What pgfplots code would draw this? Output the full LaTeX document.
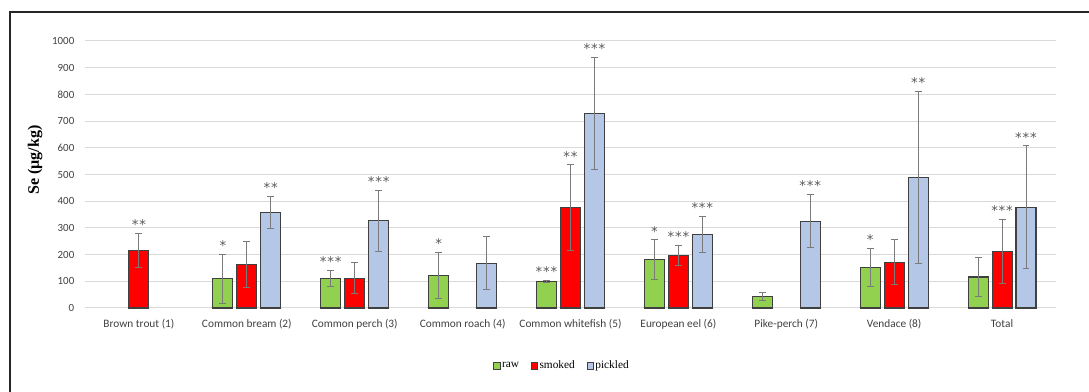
\documentclass[border=0pt]{standalone}
\usepackage{pgfplots}
\pgfplotsset{compat=1.18}
\usepackage{pgfplotstable}
\usepackage{fontspec}
\setmainfont{Carlito}
\newfontfamily\timesf{Liberation Serif}
\newfontfamily\starfont[LetterSpace=6]{DejaVu Sans}

\definecolor{rawc}{HTML}{92D050}
\definecolor{smkc}{HTML}{FF0000}
\definecolor{pikc}{HTML}{B4C7E7}
\definecolor{edge}{HTML}{404040}
\definecolor{gridc}{HTML}{D9D9D9}
\definecolor{errc}{HTML}{7A7A7A}
\definecolor{starc}{HTML}{595959}
\definecolor{textc}{HTML}{404040}

\pgfplotstableread{
x y err lab
1 110 92 *
2 112 30 ***
3 123 86 *
4 100 3 ***
5 181 75 *
6 44 15 {}
7 151 72 *
8 116 74 {}
}\rawt
\pgfplotstableread{
x y err lab
0 215 65 **
1 162 87 {}
2 112 58 {}
4 377 160 **
5 198 37 ***
7 171 84 {}
8 212 121 ***
}\smkt
\pgfplotstableread{
x y err lab
1 359 60 **
2 327 114 ***
3 168 100 {}
4 728 210 ***
5 276 67 ***
6 325 100 ***
7 489 322 **
8 377 230 ***
}\pikt

\pgfplotsset{
  mybar/.style={ybar, bar width=0.185, bar shift=0pt, draw=edge, line width=0.8pt,
    error bars/y dir=both, error bars/y explicit,
    error bars/error mark=-,
    error bars/error bar style={errc, line width=0.75pt},
    error bars/error mark options={rotate=90, errc, line width=0.75pt, mark size=2.6pt}},
  starplot/.style={draw=none, mark=none, forget plot, nodes near coords,
    point meta=explicit symbolic,
    nodes near coords style={anchor=south, inner sep=0pt, yshift=2.5pt,
      font=\starfont\fontsize{10}{11}\selectfont, text=starc}}
}

\begin{document}
\begin{tikzpicture}[x=1pt,y=1pt]
\useasboundingbox (0,0) rectangle (816.75,294);
\draw[line width=1.1pt, black!85] (7.5,-2) -- (7.5,285) -- (820,285);
\begin{axis}[at={(63.75pt,63pt)}, anchor=south west, scale only axis,
  width=728.25pt, height=200.25pt,
  xmin=-0.5, xmax=8.5, ymin=0, ymax=1000,
  ytick={0,100,...,1000}, xtick={0,...,8},
  xticklabels={Brown trout (1),Common bream (2),Common perch (3),Common roach (4),Common whitefish (5),European eel (6),Pike-perch (7),Vendace (8),Total},
  ymajorgrids, grid style={gridc, line width=0.75pt},
  axis line style={draw=none}, tick style={draw=none},
  clip=false,
  /pgf/number format/1000 sep={},
  /pgf/number format/assume math mode=true,
  yticklabel style={font=\fontsize{8.2}{9}\selectfont, text=textc, xshift=-4.5pt},
  xticklabel style={font=\fontsize{8.5}{9}\selectfont, text=textc, yshift=-5pt},
  ylabel={Se (µg/kg)},
  ylabel style={at={(rel axis cs:-0.0515,0.554)}, anchor=center, font=\timesf\bfseries\fontsize{12}{14}\selectfont},
  legend columns=3,
  legend style={at={(0.491,-0.217)}, anchor=center, draw=none, fill=none,
    font=\timesf\fontsize{8.5}{10}\selectfont,
    /tikz/every even column/.append style={column sep=8pt},
    inner sep=0pt, nodes={inner sep=1pt}},
  legend cell align=left,
]
\addplot[mybar, fill=rawc, legend image code/.code={\draw[fill=rawc, draw=edge, line width=0.6pt] (0pt,-2.4pt) rectangle (4.8pt,2.4pt);}]
  table[x expr=\thisrow{x}-0.222, y=y, y error=err] \rawt;
\addlegendentry{raw}
\addplot[mybar, fill=smkc, legend image code/.code={\draw[fill=smkc, draw=edge, line width=0.6pt] (0pt,-2.4pt) rectangle (4.8pt,2.4pt);}]
  table[x expr=\thisrow{x}, y=y, y error=err] \smkt;
\addlegendentry{smoked}
\addplot[mybar, fill=pikc, legend image code/.code={\draw[fill=pikc, draw=edge, line width=0.6pt] (0pt,-2.4pt) rectangle (4.8pt,2.4pt);}]
  table[x expr=\thisrow{x}+0.222, y=y, y error=err] \pikt;
\addlegendentry{pickled}

\addplot[starplot] table[x expr=\thisrow{x}-0.222, y expr=\thisrow{y}+\thisrow{err}, meta=lab] \rawt;
\addplot[starplot] table[x expr=\thisrow{x}, y expr=\thisrow{y}+\thisrow{err}, meta=lab] \smkt;
\addplot[starplot] table[x expr=\thisrow{x}+0.222, y expr=\thisrow{y}+\thisrow{err}, meta=lab] \pikt;
\end{axis}
\end{tikzpicture}
\end{document}
